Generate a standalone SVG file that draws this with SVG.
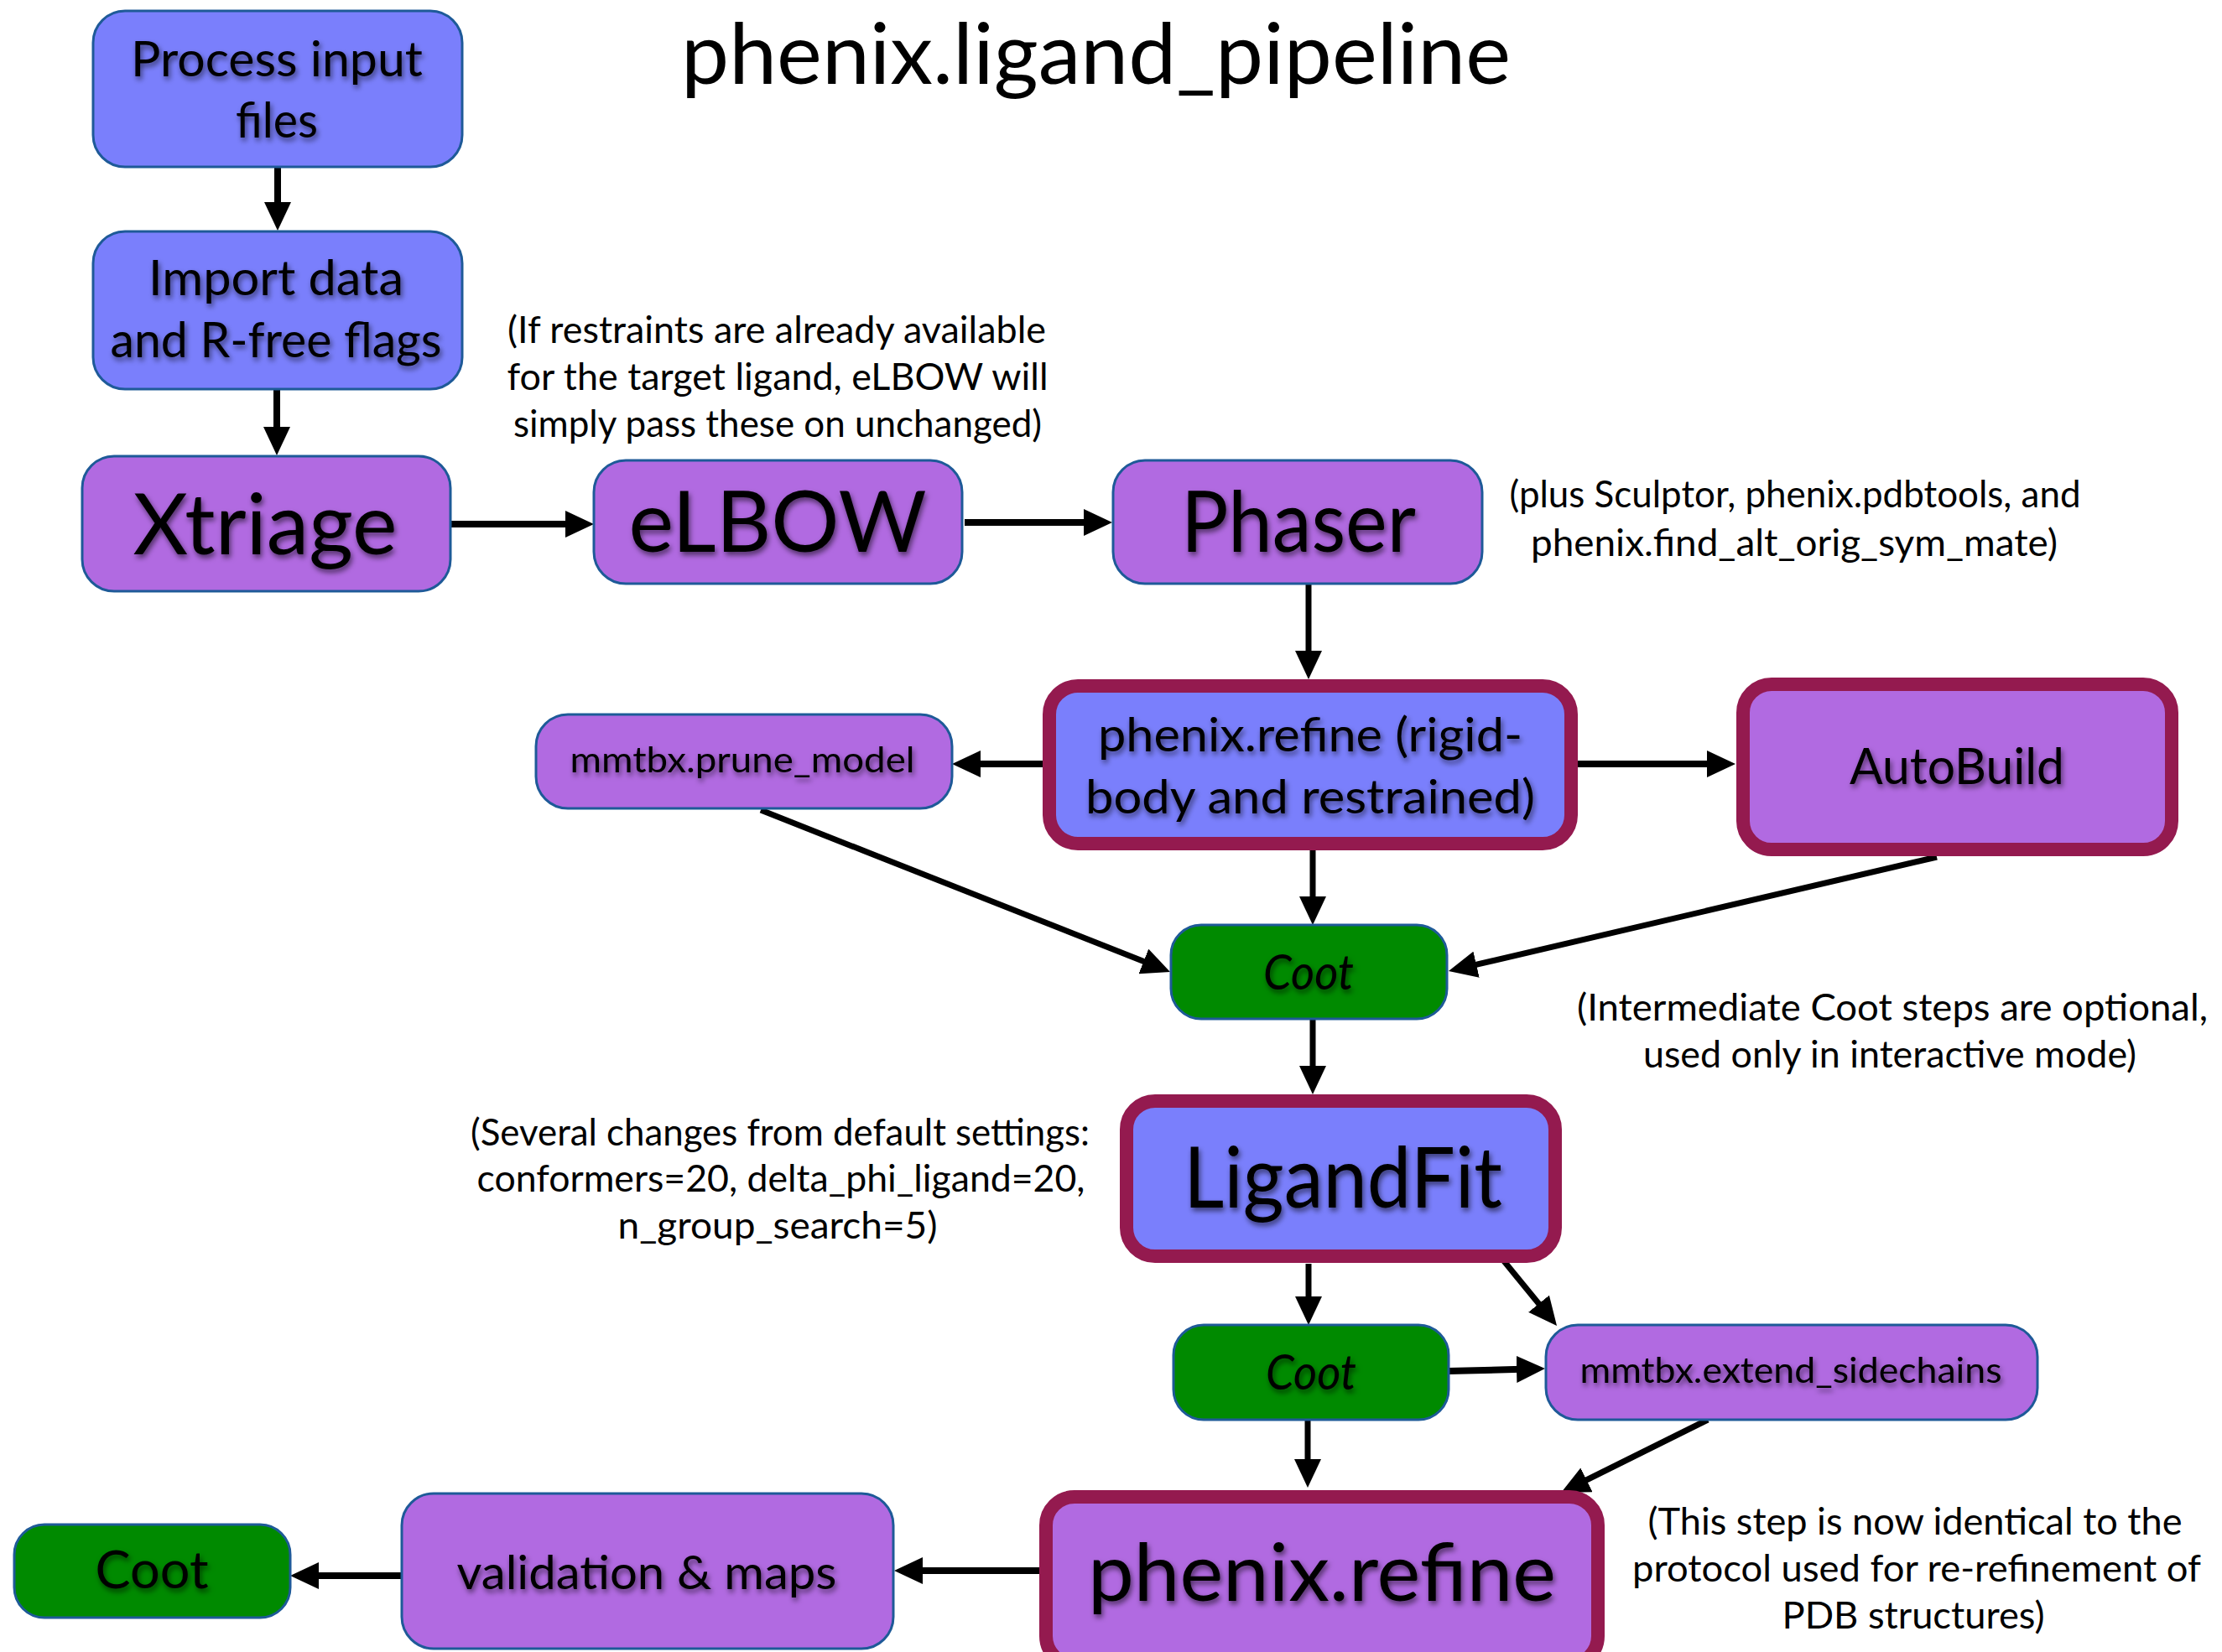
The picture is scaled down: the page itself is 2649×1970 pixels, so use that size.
<svg xmlns="http://www.w3.org/2000/svg" width="2649" height="1970" viewBox="0 0 2649 1970">
<defs>
<filter id="sh" x="-10%" y="-30%" width="120%" height="160%">
<feDropShadow dx="2" dy="4" stdDeviation="3" flood-color="#000" flood-opacity="0.55"/>
</filter>
<marker id="ah" viewBox="0 0 34 32" markerUnits="userSpaceOnUse" markerWidth="34" markerHeight="32" refX="24" refY="16" orient="auto">
<path d="M0,0 L34,16 L0,32 z" fill="#000"/>
</marker>
</defs>
<style>
.blue{fill:#7a7ffc;stroke:#1e5a98;stroke-width:3}
.purp{fill:#b16ae1;stroke:#1e5a98;stroke-width:3}
.green{fill:#008a00;stroke:#1e5a98;stroke-width:3}
.tblue{fill:#7a7ffc;stroke:#941a4f;stroke-width:16}
.tpurp{fill:#b16ae1;stroke:#941a4f;stroke-width:16}
.lbl{font-family:"Lato","Liberation Sans",sans-serif;fill:#000;text-anchor:middle;filter:url(#sh)}
.note{font-family:"Lato","Liberation Sans",sans-serif;fill:#000;text-anchor:middle;font-size:44px}
.title{font-family:"Lato","Liberation Sans",sans-serif;fill:#000;font-size:100px}
.c{fill:none;stroke:#000;stroke-width:7;marker-end:url(#ah)}
.ch{fill:none;stroke:#000;stroke-width:8;marker-end:url(#ah)}
</style>
<rect width="2649" height="1970" fill="#fff"/>
<text class="title" x="812" y="100" textLength="989" lengthAdjust="spacingAndGlyphs">phenix.ligand_pipeline</text>

<g id="connectors">
<line class="ch" x1="331" y1="199" x2="331" y2="265"/>
<line class="ch" x1="330" y1="464" x2="330" y2="533"/>
<line class="ch" x1="537" y1="625" x2="698" y2="625"/>
<line class="ch" x1="1150" y1="623" x2="1316" y2="623"/>
<line class="c" x1="1560" y1="697" x2="1560" y2="800"/>
<line class="ch" x1="1243" y1="911" x2="1145" y2="911"/>
<line class="ch" x1="1881" y1="911" x2="2059" y2="911"/>
<line class="c" x1="1565" y1="1014" x2="1565" y2="1093"/>
<line class="c" x1="907" y1="966" x2="1385.7" y2="1155.3"/>
<line class="c" x1="2309" y1="1022" x2="1736.7" y2="1155.7"/>
<line class="c" x1="1565" y1="1216" x2="1565" y2="1295"/>
<line class="c" x1="1560" y1="1507" x2="1560" y2="1570"/>
<line class="c" x1="1780" y1="1488" x2="1849.7" y2="1573.3"/>
<line class="ch" x1="1727" y1="1635" x2="1832" y2="1632.3"/>
<line class="c" x1="1559" y1="1693" x2="1559" y2="1764"/>
<line class="c" x1="2036" y1="1693" x2="1870" y2="1775.5"/>
<line class="ch" x1="1239" y1="1873" x2="1076" y2="1873"/>
<line class="ch" x1="478" y1="1879" x2="356" y2="1879"/>
</g>

<g id="process_input">
<rect class="blue" x="111" y="13" width="440" height="186" rx="38"/>
<text class="lbl" font-size="58" x="330" y="91" textLength="348" lengthAdjust="spacingAndGlyphs">Process input</text>
<text class="lbl" font-size="58" x="330" y="164" textLength="98" lengthAdjust="spacingAndGlyphs">files</text>
</g>
<g id="import_data">
<rect class="blue" x="111" y="276" width="440" height="188" rx="38"/>
<text class="lbl" font-size="58" x="329" y="352" textLength="304" lengthAdjust="spacingAndGlyphs">Import data</text>
<text class="lbl" font-size="58" x="329" y="426" textLength="395" lengthAdjust="spacingAndGlyphs">and R-free flags</text>
</g>
<g id="xtriage">
<rect class="purp" x="98" y="544" width="439" height="161" rx="38"/>
<text class="lbl" font-size="100" x="316" y="661" textLength="315" lengthAdjust="spacingAndGlyphs">Xtriage</text>
</g>
<g id="elbow">
<rect class="purp" x="708" y="549" width="439" height="147" rx="38"/>
<text class="lbl" font-size="100" x="927" y="658" textLength="355" lengthAdjust="spacingAndGlyphs">eLBOW</text>
</g>
<g id="phaser">
<rect class="purp" x="1327" y="549" width="440" height="147" rx="38"/>
<text class="lbl" font-size="100" x="1548" y="658" textLength="280" lengthAdjust="spacingAndGlyphs">Phaser</text>
</g>
<g id="refine_rigid">
<rect class="tblue" x="1251" y="818" width="622" height="188" rx="34"/>
<text class="lbl" font-size="56" x="1562" y="896" textLength="506" lengthAdjust="spacingAndGlyphs">phenix.refine (rigid-</text>
<text class="lbl" font-size="56" x="1562" y="970" textLength="536" lengthAdjust="spacingAndGlyphs">body and restrained)</text>
</g>
<g id="prune_model">
<rect class="purp" x="639" y="852" width="496" height="112" rx="38"/>
<text class="lbl" font-size="42" x="885" y="921" textLength="411" lengthAdjust="spacingAndGlyphs">mmtbx.prune_model</text>
</g>
<g id="autobuild">
<rect class="tpurp" x="2078" y="816" width="511" height="197" rx="34"/>
<text class="lbl" font-size="60" x="2333" y="935" textLength="256" lengthAdjust="spacingAndGlyphs">AutoBuild</text>
</g>
<g id="coot1">
<rect class="green" x="1396" y="1103" width="329" height="112" rx="36"/>
<text class="lbl" font-size="58" font-style="italic" x="1560" y="1180" textLength="108" lengthAdjust="spacingAndGlyphs">Coot</text>
</g>
<g id="ligandfit">
<rect class="tblue" x="1343" y="1313" width="511" height="185" rx="34"/>
<text class="lbl" font-size="100" x="1601" y="1440" textLength="380" lengthAdjust="spacingAndGlyphs">LigandFit</text>
</g>
<g id="coot2">
<rect class="green" x="1399" y="1580" width="328" height="113" rx="36"/>
<text class="lbl" font-size="58" font-style="italic" x="1563" y="1657" textLength="108" lengthAdjust="spacingAndGlyphs">Coot</text>
</g>
<g id="extend_sidechains">
<rect class="purp" x="1843" y="1580" width="586" height="113" rx="38"/>
<text class="lbl" font-size="42" x="2135" y="1649" textLength="503" lengthAdjust="spacingAndGlyphs">mmtbx.extend_sidechains</text>
</g>
<g id="refine_final">
<rect class="tpurp" x="1247" y="1785" width="658" height="200" rx="34"/>
<text class="lbl" font-size="95" x="1576" y="1909" textLength="558" lengthAdjust="spacingAndGlyphs">phenix.refine</text>
</g>
<g id="validation">
<rect class="purp" x="479" y="1781" width="586" height="185" rx="38"/>
<text class="lbl" font-size="56" x="771" y="1895" textLength="453" lengthAdjust="spacingAndGlyphs">validation &amp; maps</text>
</g>
<g id="coot3">
<rect class="green" x="17" y="1818" width="329" height="111" rx="36"/>
<text class="lbl" font-size="62" x="181" y="1894" textLength="135" lengthAdjust="spacingAndGlyphs">Coot</text>
</g>

<g id="notes">
<text class="note" x="926" y="409" textLength="642" lengthAdjust="spacingAndGlyphs">(If restraints are already available</text>
<text class="note" x="927" y="465" textLength="645" lengthAdjust="spacingAndGlyphs">for the target ligand, eLBOW will</text>
<text class="note" x="927" y="521" textLength="630" lengthAdjust="spacingAndGlyphs">simply pass these on unchanged)</text>
<text class="note" x="2140" y="605" textLength="681" lengthAdjust="spacingAndGlyphs">(plus Sculptor, phenix.pdbtools, and</text>
<text class="note" x="2139" y="663" textLength="628" lengthAdjust="spacingAndGlyphs">phenix.find_alt_orig_sym_mate)</text>
<text class="note" x="2256" y="1217" textLength="752" lengthAdjust="spacingAndGlyphs">(Intermediate Coot steps are optional,</text>
<text class="note" x="2253" y="1273" textLength="588" lengthAdjust="spacingAndGlyphs">used only in interactive mode)</text>
<text class="note" x="930" y="1366" textLength="738" lengthAdjust="spacingAndGlyphs">(Several changes from default settings:</text>
<text class="note" x="931" y="1421" textLength="725" lengthAdjust="spacingAndGlyphs">conformers=20, delta_phi_ligand=20,</text>
<text class="note" x="927" y="1477" textLength="381" lengthAdjust="spacingAndGlyphs">n_group_search=5)</text>
<text class="note" x="2283" y="1830" textLength="637" lengthAdjust="spacingAndGlyphs">(This step is now identical to the</text>
<text class="note" x="2285" y="1886" textLength="678" lengthAdjust="spacingAndGlyphs">protocol used for re-refinement of</text>
<text class="note" x="2281" y="1942" textLength="313" lengthAdjust="spacingAndGlyphs">PDB structures)</text>
</g>
</svg>
